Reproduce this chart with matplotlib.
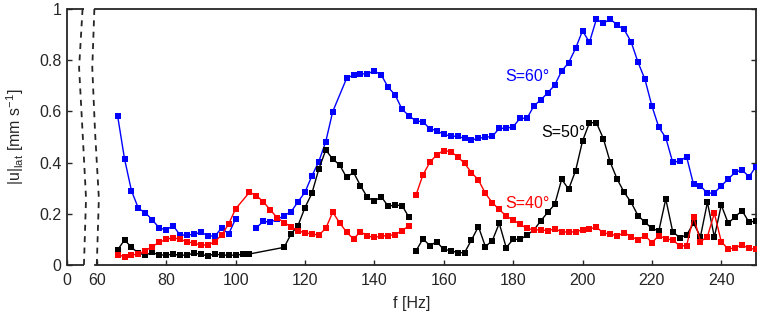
import matplotlib
matplotlib.use("Agg")
import matplotlib.pyplot as plt
import numpy as np

# ---------------- data ----------------
# S=60 deg (blue)
f_blue_a = np.arange(66, 101, 2)
u_blue_a = [0.583, 0.414, 0.290, 0.221, 0.204, 0.176, 0.145, 0.137, 0.154, 0.117,
            0.117, 0.120, 0.128, 0.115, 0.112, 0.145, 0.121, 0.180]
f_blue_b = np.concatenate([np.arange(106, 129, 2), np.arange(132, 251, 2)])
u_blue_b = [0.146, 0.170, 0.168, 0.178, 0.193, 0.208, 0.247, 0.284, 0.348, 0.404, 0.482, 0.599,
            0.729, 0.742, 0.746, 0.747, 0.758, 0.742, 0.694, 0.664, 0.608, 0.583,
            0.562, 0.560, 0.532, 0.525, 0.510, 0.504, 0.502, 0.495, 0.488, 0.495,
            0.499, 0.502, 0.534, 0.534, 0.540, 0.573, 0.573, 0.622, 0.645, 0.673,
            0.703, 0.758, 0.790, 0.846, 0.915, 0.870, 0.960, 0.944, 0.961, 0.937,
            0.920, 0.872, 0.792, 0.725, 0.621, 0.538, 0.497, 0.401, 0.406, 0.423,
            0.315, 0.309, 0.280, 0.282, 0.309, 0.336, 0.362, 0.371, 0.345, 0.384]

# S=40 deg (red)
f_red_a = np.concatenate([np.arange(66, 101, 2), np.arange(104, 151, 2)])
u_red_a = [0.039, 0.033, 0.039, 0.043, 0.056, 0.072, 0.089, 0.100, 0.107, 0.100,
           0.091, 0.085, 0.078, 0.078, 0.091, 0.117, 0.160, 0.219,
           0.284, 0.271, 0.247, 0.215, 0.185, 0.165, 0.150, 0.133, 0.126, 0.121,
           0.117, 0.143, 0.206, 0.165, 0.128, 0.102, 0.130, 0.113, 0.108, 0.113,
           0.115, 0.119, 0.134, 0.154]
f_red_b = np.arange(152, 251, 2)
u_red_b = [0.273, 0.352, 0.401, 0.431, 0.447, 0.443, 0.423, 0.397, 0.361, 0.332,
           0.280, 0.243, 0.217, 0.191, 0.176, 0.159, 0.143, 0.137, 0.137, 0.134,
           0.141, 0.130, 0.128, 0.130, 0.137, 0.141, 0.148, 0.125, 0.121, 0.113,
           0.126, 0.111, 0.098, 0.115, 0.087, 0.115, 0.102, 0.098, 0.075, 0.075,
           0.189, 0.091, 0.111, 0.202, 0.091, 0.062, 0.068, 0.078, 0.065, 0.061]

# S=50 deg (black)
f_black_a = np.concatenate([np.arange(66, 105, 2), np.arange(114, 151, 2)])
u_black_a = [0.059, 0.098, 0.069, 0.046, 0.039, 0.049, 0.039, 0.039, 0.042, 0.038,
             0.039, 0.046, 0.042, 0.035, 0.044, 0.038, 0.039, 0.038, 0.042, 0.043,
             0.069, 0.121, 0.154, 0.224, 0.280, 0.375, 0.449, 0.414, 0.391, 0.342,
             0.362, 0.310, 0.264, 0.250, 0.266, 0.230, 0.234, 0.232, 0.186]
f_black_b = np.arange(152, 251, 2)
u_black_b = [0.055, 0.102, 0.076, 0.090, 0.061, 0.056, 0.048, 0.048, 0.098, 0.150,
             0.072, 0.095, 0.163, 0.068, 0.100, 0.100, 0.117, 0.137, 0.173, 0.206,
             0.237, 0.335, 0.296, 0.368, 0.484, 0.556, 0.556, 0.494, 0.401, 0.335,
             0.284, 0.245, 0.193, 0.167, 0.143, 0.133, 0.258, 0.130, 0.107, 0.117,
             0.163, 0.111, 0.245, 0.109, 0.234, 0.163, 0.189, 0.212, 0.167, 0.172]

labels = ["S=60°", "S=50°", "S=40°"]
xtick_pos = [51.5, 60, 80, 100, 120, 140, 160, 180, 200, 220, 240]
xtick_labels = ["0", "60", "80", "100", "120", "140", "160", "180", "200", "220", "240"]
ytick_pos = [0, 0.2, 0.4, 0.6, 0.8, 1.0]
ytick_labels = ["0", "0.2", "0.4", "0.6", "0.8", "1"]

# ---------------- style ----------------
plt.rcParams['font.family'] = ['Liberation Sans', 'DejaVu Sans']
plt.rcParams['mathtext.default'] = 'regular'
axc = '0.15'
fs = 11.5

fig = plt.figure(figsize=(7.63, 3.2), dpi=100)
ax = fig.add_axes([0.0882, 0.1719, 0.9026, 0.80])

def series(f, u, c):
    ax.plot(f, u, color=c, lw=1.0, marker='s', ms=4.4, mfc=c, mec=c, mew=0, zorder=3)

series(f_blue_a, u_blue_a, 'blue')
series(f_blue_b, u_blue_b, 'blue')
series(f_black_a, u_black_a, 'black')
series(f_black_b, u_black_b, 'black')
series(f_red_a, u_red_a, 'red')
series(f_red_b, u_red_b, 'red')

ax.set_xlim(51.5, 250)
ax.set_ylim(0, 1)
ax.set_xticks(xtick_pos)
ax.set_xticklabels(xtick_labels)
ax.set_yticks(ytick_pos)
ax.set_yticklabels(ytick_labels)
ax.tick_params(direction='in', length=3.6, width=1.0, colors=axc, labelsize=fs,
               right=True, top=False)
ax.tick_params(axis='x', pad=6)
ax.tick_params(axis='y', pad=4)

for s in ax.spines.values():
    s.set_linewidth(1.3)
    s.set_color(axc)
# axis break
gap_l, gap_r = 56.2, 59.6
ax.spines['bottom'].set_bounds(gap_r, 250)
ax.spines['top'].set_bounds(gap_r, 250)
for yy in (0, 1):
    ax.plot([51.5, gap_l], [yy, yy], color=axc, lw=1.3, clip_on=False,
            solid_capstyle='butt', zorder=5)
brk_y = [1.0, 0.77, 0.52, 0.26, 0.0]
brk_left = [55.9, 54.9, 55.9, 56.9, 56.3]
brk_right = [59.3, 58.7, 59.5, 60.6, 60.0]
for bx in (brk_left, brk_right):
    ax.plot(bx, brk_y, color=axc, lw=1.3, ls=(0, (3.3, 3.0)), clip_on=False, zorder=5)

ax.set_xlabel('f [Hz]', fontsize=fs, color=axc)
ax.set_ylabel(r'|u|$_{lat}$ [mm s$^{-1}$]', fontsize=fs, color=axc)
ax.xaxis.set_label_coords(0.5, -0.12)
ax.yaxis.set_label_coords(-0.060, 0.5)

ax.text(177.6, 0.735, labels[0], color='blue', fontsize=fs, ha='left', va='center')
ax.text(188.2, 0.517, labels[1], color='black', fontsize=fs, ha='left', va='center')
ax.text(177.6, 0.242, labels[2], color='red', fontsize=fs, ha='left', va='center')

fig.savefig('out.png', dpi=100)
